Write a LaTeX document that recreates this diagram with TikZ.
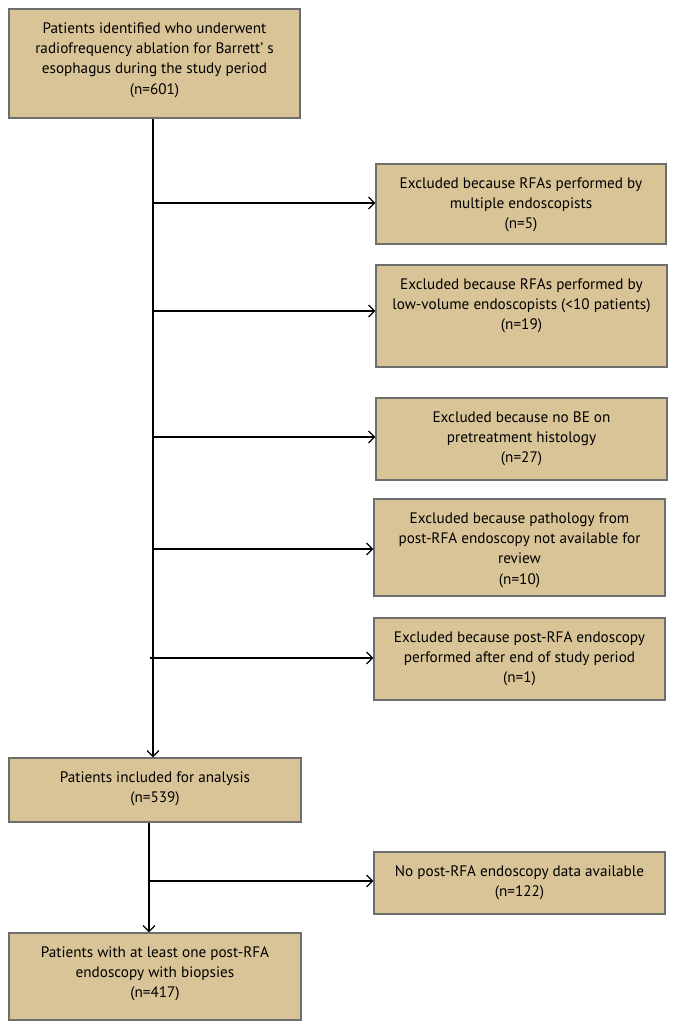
\documentclass[tikz,border=0pt]{standalone}
\usepackage{fontspec}
\setmainfont{PT Sans}
\usetikzlibrary{arrows.meta}
\definecolor{boxfill}{RGB}{217,196,151}
\definecolor{boxline}{RGB}{110,110,110}
\newcommand\fsz{\fontsize{15.2}{20.3}\selectfont}
% #1 width, #2 height, #3 text
\newcommand\bt[3]{\parbox[c][#2][t]{#1}{\fsz\centering\vspace*{10pt}\strut #3}}
\tikzset{
  box/.style={draw=boxline, line width=1.1pt, fill=boxfill, inner sep=0pt, rectangle},
  arr/.style={draw=black, line width=1.3pt, -{Straight Barb[length=6pt,width=12pt,line width=1.3pt]}},
  ln/.style={draw=black, line width=1.3pt}
}
\begin{document}
\begin{tikzpicture}[x=1pt,y=-1pt]
\useasboundingbox[fill=white] (0,0) rectangle (676,1030);
% boxes: centre = ((x1+x2)/2,(y1+y2)/2)
\node[box] (top) at (154.5,63.5) {\bt{291pt}{109pt}{Patients identified who underwent\\ radiofrequency ablation for Barrett’ s\\ esophagus during the study period\\ (n=601)}};
\node[box] (ex1) at (521,204) {\bt{290pt}{80pt}{Excluded because RFAs performed by\\ multiple endoscopists\\ (n=5)}};
\node[box] (ex2) at (521.5,316) {\bt{291pt}{102pt}{Excluded because RFAs performed by\\ low-volume endoscopists (<10 patients)\\ (n=19)}};
\node[box] (ex3) at (521.5,439) {\bt{291pt}{82pt}{Excluded because no BE on\\ pretreatment histology\\ (n=27)}};
\node[box] (ex4) at (519.5,547.5) {\bt{291pt}{97pt}{Excluded because pathology from\\ post-RFA endoscopy not available for\\ review\\ (n=10)}};
\node[box] (ex5) at (519.5,659) {\bt{291pt}{82pt}{Excluded because post-RFA endoscopy\\ performed after end of study period\\ (n=1)}};
\node[box] (inc) at (155,790) {\bt{292pt}{64pt}{Patients included for analysis\\ (n=539)}};
\node[box] (nop) at (519.5,883) {\bt{291pt}{62pt}{No post-RFA endoscopy data available\\ (n=122)}};
\node[box] (fin) at (155,976.5) {\bt{292pt}{87pt}{Patients with at least one post-RFA\\ endoscopy with biopsies\\ (n=417)}};
% trunk 1
\coordinate (a0) at (153,118);
\coordinate (a1) at (153,203);
\coordinate (a2) at (153,311);
\coordinate (a3) at (153,437);
\coordinate (a4) at (153,549);
\coordinate (a5) at (150,658);
\draw[arr] (top.south -| a0) -- (inc.north -| a0);
\draw[arr] (a1) -- (a1 -| ex1.west);
\draw[arr] (a2) -- (a2 -| ex2.west);
\draw[arr] (a3) -- (a3 -| ex3.west);
\draw[arr] (a4) -- (a4 -| ex4.west);
\draw[arr] (a5) -- (a5 -| ex5.west);
% trunk 2
\coordinate (b0) at (149,822);
\coordinate (b1) at (149,881);
\draw[arr] (inc.south -| b0) -- (fin.north -| b0);
\draw[arr] (b1) -- (b1 -| nop.west);
\end{tikzpicture}
\end{document}
